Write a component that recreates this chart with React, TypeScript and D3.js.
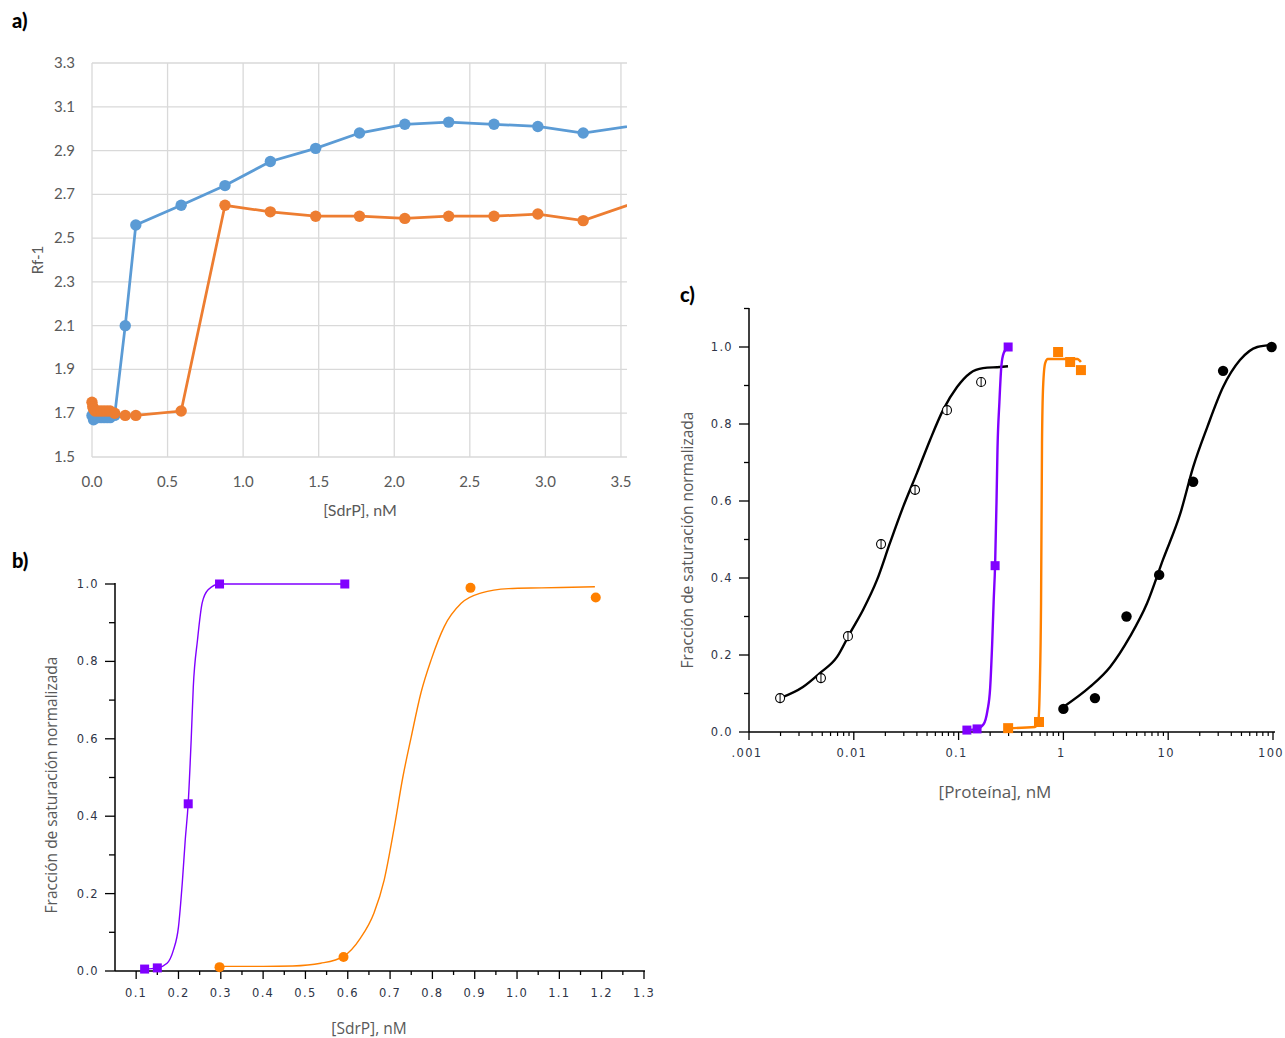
import * as d3 from 'd3'
import React from 'react'

// ---- panel a) Rf-1 vs [SdrP]
const aXTicks = [0, 0.5, 1.0, 1.5, 2.0, 2.5, 3.0, 3.5]
const aYTicks = [1.5, 1.7, 1.9, 2.1, 2.3, 2.5, 2.7, 2.9, 3.1, 3.3]
const aBlue = [[0, 1.69], [0.01, 1.67], [0.02, 1.68], [0.04, 1.68], [0.06, 1.68], [0.08, 1.68], [0.1, 1.68], [0.12, 1.68], [0.15, 1.69], [0.22, 2.10], [0.29, 2.56], [0.59, 2.65], [0.88, 2.74], [1.18, 2.85], [1.48, 2.91], [1.77, 2.98], [2.07, 3.02], [2.36, 3.03], [2.66, 3.02], [2.95, 3.01], [3.25, 2.98], [3.84, 3.04]]
const aOrange = [[0, 1.75], [0.005, 1.73], [0.01, 1.72], [0.02, 1.71], [0.04, 1.71], [0.06, 1.71], [0.08, 1.71], [0.1, 1.71], [0.12, 1.71], [0.15, 1.70], [0.22, 1.69], [0.29, 1.69], [0.59, 1.71], [0.88, 2.65], [1.18, 2.62], [1.48, 2.60], [1.77, 2.60], [2.07, 2.59], [2.36, 2.60], [2.66, 2.60], [2.95, 2.61], [3.25, 2.58], [3.84, 2.72]]

// ---- panel b) saturation vs [SdrP]
const bXMajor = [0.1, 0.2, 0.3, 0.4, 0.5, 0.6, 0.7, 0.8, 0.9, 1.0, 1.1, 1.2, 1.3]
const bXMinor = [0.15, 0.25, 0.35, 0.45, 0.55, 0.65, 0.75, 0.85, 0.95, 1.05, 1.15, 1.25]
const bYMajor = [0, 0.2, 0.4, 0.6, 0.8, 1.0]
const bYMinor = [0.1, 0.3, 0.5, 0.7, 0.9]
const purplePts = [[0.12, 0.005], [0.15, 0.008], [0.223, 0.432], [0.297, 1.0], [0.593, 1.0]]
const purpleFit = [[0.12, 0.005], [0.15, 0.008], [0.173, 0.02], [0.188, 0.054], [0.2, 0.114], [0.209, 0.228], [0.216, 0.339], [0.223, 0.434], [0.23, 0.597], [0.235, 0.734], [0.245, 0.856], [0.256, 0.951], [0.27, 0.985], [0.297, 1.0], [0.593, 1.0]]
const orangeBPts = [[0.297, 0.01], [0.59, 0.036], [0.89, 0.99], [1.186, 0.965]]
const orangeBFit = [[0.297, 0.012], [0.4, 0.012], [0.47, 0.013], [0.536, 0.02], [0.59, 0.038], [0.63, 0.085], [0.662, 0.15], [0.686, 0.235], [0.71, 0.372], [0.73, 0.5], [0.75, 0.605], [0.773, 0.719], [0.797, 0.804], [0.828, 0.89], [0.868, 0.95], [0.916, 0.977], [0.98, 0.988], [1.058, 0.99], [1.184, 0.993]]

// ---- panel c) saturation vs [Proteína] (log)
const cXMajor = [0.001, 0.01, 0.1, 1, 10, 100]
const cXLabels = ['.001', '0.01', '0.1', '1', '10', '100']
const cYMajor = [0, 0.2, 0.4, 0.6, 0.8, 1.0]
const cYMinor = [0.1, 0.3, 0.5, 0.7, 0.9, 1.1]
const openPts = [[0.00198, 0.088], [0.00486, 0.14], [0.0088, 0.249], [0.0182, 0.488], [0.0384, 0.629], [0.0775, 0.836], [0.164, 0.909]]
const openFit = [[0.00198, 0.088], [0.00327, 0.117], [0.00475, 0.153], [0.00692, 0.195], [0.0092, 0.257], [0.01224, 0.317], [0.01665, 0.395], [0.02214, 0.491], [0.0295, 0.584], [0.0401, 0.673], [0.0533, 0.758], [0.071, 0.836], [0.0966, 0.896], [0.1285, 0.932], [0.171, 0.945], [0.248, 0.948], [0.296, 0.95]]
const purpleCPts = [[0.12, 0.005], [0.15, 0.008], [0.223, 0.432], [0.297, 1.0]]
const orangeCPts = [[0.297, 0.01], [0.585, 0.026], [0.89, 0.987], [1.16, 0.961], [1.47, 0.94]]
const orangeCFit = [[0.297, 0.01], [0.536, 0.013], [0.58, 0.036], [0.595, 0.117], [0.612, 0.335], [0.625, 0.75], [0.64, 0.896], [0.67, 0.958], [0.71, 0.969], [0.99, 0.969], [1.36, 0.969], [1.47, 0.961]]
const filledPts = [[1.0, 0.06], [2.0, 0.088], [4.0, 0.3], [8.2, 0.408], [17.3, 0.65], [33.4, 0.938], [97, 1.0]]
const filledFit = [[1.0, 0.065], [1.79, 0.117], [2.79, 0.169], [4.3, 0.247], [6.3, 0.335], [8.9, 0.447], [13.1, 0.569], [17.3, 0.688], [23.6, 0.792], [33.4, 0.896], [48.4, 0.966], [70.8, 1.0], [97, 1.005]]

const BLUE = '#5B9BD5'
const ORANGE_A = '#ED7D31'
const PURPLE = '#8000FF'
const ORANGE = '#FF8000'

export default function App() {
  // a)
  const aX = d3.scaleLinear().domain([0, 3.54]).range([92, 627])
  const aY = d3.scaleLinear().domain([1.5, 3.3]).range([457, 63])
  const aLine = d3.line().x(d => aX(d[0])).y(d => aY(d[1]))

  // b)
  const bX = d3.scaleLinear().domain([0.05, 1.3]).range([115, 644])
  const bY = d3.scaleLinear().domain([0, 1]).range([971, 584])
  const bLine = d3.line().curve(d3.curveMonotoneX).x(d => bX(d[0])).y(d => bY(d[1]))

  // c)
  const cX = d3.scaleLog().domain([0.001, 100]).range([749, 1273])
  const cY = d3.scaleLinear().domain([0, 1.1]).range([732, 308.5])
  const cLine = d3.line().curve(d3.curveMonotoneX).x(d => cX(d[0])).y(d => cY(d[1]))
  const cMinor = []
  cXMajor.slice(0, -1).forEach(m => { for (let k = 2; k <= 9; k++) cMinor.push(m * k) })

  const tickFont = { fontFamily: 'DejaVu Sans, sans-serif', fontSize: 11.5, fill: '#2e3446', letterSpacing: 1.3 }
  const titleFont = { fontFamily: 'Open Sans, sans-serif', fontSize: 15.5, fill: '#595959' }
  const aFont = { fontFamily: 'Lato, sans-serif', fontSize: 15, fill: '#595959' }
  const panelFont = { fontFamily: 'Lato, sans-serif', fontSize: 20, fontWeight: 900, fill: '#000' }

  return (
    <svg width={1285} height={1038} style={{ position: 'absolute', left: 0, top: 0, background: '#fff' }}>
      <defs>
        <clipPath id="clipA"><rect x={80} y={40} width={547} height={430} /></clipPath>
      </defs>

      {/* ---------- a) ---------- */}
      <text x={12} y={28} {...panelFont}>a)</text>
      {aYTicks.map(t => (
        <g key={'ay' + t}>
          <line x1={92} x2={627} y1={aY(t)} y2={aY(t)} stroke="#d9d9d9" strokeWidth={1.3} />
          <text x={75} y={aY(t) + 5} textAnchor="end" {...aFont}>{t.toFixed(1)}</text>
        </g>
      ))}
      {aXTicks.map(t => (
        <g key={'ax' + t}>
          <line x1={aX(t)} x2={aX(t)} y1={63} y2={457} stroke="#d9d9d9" strokeWidth={1.3} />
          <text x={aX(t)} y={487} textAnchor="middle" {...aFont}>{t.toFixed(1)}</text>
        </g>
      ))}
      <text transform="translate(43,260) rotate(-90)" textAnchor="middle" {...aFont}>Rf-1</text>
      <text x={360} y={516} textAnchor="middle" {...aFont} fontSize={16}>[SdrP], nM</text>
      <g clipPath="url(#clipA)">
        <path d={aLine(aBlue)} fill="none" stroke={BLUE} strokeWidth={2.75} />
        {aBlue.map((p, i) => <circle key={'b' + i} cx={aX(p[0])} cy={aY(p[1])} r={5.7} fill={BLUE} />)}
        <path d={aLine(aOrange)} fill="none" stroke={ORANGE_A} strokeWidth={2.75} />
        {aOrange.map((p, i) => <circle key={'o' + i} cx={aX(p[0])} cy={aY(p[1])} r={5.7} fill={ORANGE_A} />)}
      </g>

      {/* ---------- b) ---------- */}
      <text x={12} y={568} {...panelFont}>b)</text>
      <line x1={115} x2={115} y1={583} y2={971} stroke="#000" strokeWidth={1.5} />
      <line x1={115} x2={645} y1={971} y2={971} stroke="#000" strokeWidth={1.5} />
      {bYMajor.map(t => (
        <g key={'by' + t}>
          <line x1={105} x2={115} y1={bY(t)} y2={bY(t)} stroke="#000" strokeWidth={1.3} />
          <text x={99} y={bY(t) + 4} textAnchor="end" {...tickFont}>{t.toFixed(1)}</text>
        </g>
      ))}
      {bYMinor.map(t => <line key={'bym' + t} x1={109} x2={115} y1={bY(t)} y2={bY(t)} stroke="#000" strokeWidth={1.3} />)}
      {bXMajor.map(t => (
        <g key={'bx' + t}>
          <line x1={bX(t)} x2={bX(t)} y1={971} y2={979} stroke="#000" strokeWidth={1.3} />
          <text x={bX(t)} y={997} textAnchor="middle" {...tickFont}>{t.toFixed(1)}</text>
        </g>
      ))}
      {bXMinor.map(t => <line key={'bxm' + t} x1={bX(t)} x2={bX(t)} y1={971} y2={975} stroke="#000" strokeWidth={1.3} />)}
      <text transform="translate(57,785) rotate(-90)" textAnchor="middle" {...titleFont}>Fracción de saturación normalizada</text>
      <text x={369} y={1034} textAnchor="middle" {...titleFont}>[SdrP], nM</text>
      <path d={bLine(purpleFit)} fill="none" stroke={PURPLE} strokeWidth={1.4} />
      {purplePts.map((p, i) => <rect key={'pb' + i} x={bX(p[0]) - 4.5} y={bY(p[1]) - 4.5} width={9} height={9} fill={PURPLE} />)}
      <path d={bLine(orangeBFit)} fill="none" stroke={ORANGE} strokeWidth={1.4} />
      {orangeBPts.map((p, i) => <circle key={'ob' + i} cx={bX(p[0])} cy={bY(p[1])} r={5} fill={ORANGE} />)}

      {/* ---------- c) ---------- */}
      <text x={680} y={302} {...panelFont}>c)</text>
      <line x1={749} x2={749} y1={308} y2={732} stroke="#000" strokeWidth={1.5} />
      <line x1={749} x2={1275} y1={732} y2={732} stroke="#000" strokeWidth={1.5} />
      {cYMajor.map(t => (
        <g key={'cy' + t}>
          <line x1={739} x2={749} y1={cY(t)} y2={cY(t)} stroke="#000" strokeWidth={1.3} />
          <text x={733} y={cY(t) + 4} textAnchor="end" {...tickFont}>{t.toFixed(1)}</text>
        </g>
      ))}
      {cYMinor.map(t => <line key={'cym' + t} x1={744} x2={749} y1={cY(t)} y2={cY(t)} stroke="#000" strokeWidth={1.3} />)}
      {cXMajor.map((t, i) => (
        <g key={'cx' + t}>
          <line x1={cX(t)} x2={cX(t)} y1={732} y2={740} stroke="#000" strokeWidth={1.3} />
          <text x={cX(t) - 2} y={757} textAnchor="middle" {...tickFont}>{cXLabels[i]}</text>
        </g>
      ))}
      {cMinor.map((t, i) => <line key={'cxm' + i} x1={cX(t)} x2={cX(t)} y1={732} y2={736} stroke="#000" strokeWidth={1.2} />)}
      <text transform="translate(693,540) rotate(-90)" textAnchor="middle" {...titleFont}>Fracción de saturación normalizada</text>
      <text x={995} y={798} textAnchor="middle" {...titleFont} fontSize={17}>[Proteína], nM</text>

      <path d={cLine(openFit)} fill="none" stroke="#000" strokeWidth={2.4} />
      {openPts.map((p, i) => (
        <g key={'oc' + i}>
          <circle cx={cX(p[0])} cy={cY(p[1])} r={4.5} fill="#fff" stroke="#000" strokeWidth={1.1} />
          <line x1={cX(p[0])} x2={cX(p[0])} y1={cY(p[1]) - 5} y2={cY(p[1]) + 5} stroke="#000" strokeWidth={1} />
        </g>
      ))}
      <path d={cLine(purpleFit.slice(0, -1))} fill="none" stroke={PURPLE} strokeWidth={2.4} />
      {purpleCPts.map((p, i) => <rect key={'pc' + i} x={cX(p[0]) - 4.5} y={cY(p[1]) - 4.5} width={9} height={9} fill={PURPLE} />)}
      <path d={cLine(orangeCFit)} fill="none" stroke={ORANGE} strokeWidth={2.4} />
      {orangeCPts.map((p, i) => <rect key={'occ' + i} x={cX(p[0]) - 5} y={cY(p[1]) - 5} width={10} height={10} fill={ORANGE} />)}
      <path d={cLine(filledFit)} fill="none" stroke="#000" strokeWidth={2.4} />
      {filledPts.map((p, i) => <circle key={'fc' + i} cx={cX(p[0])} cy={cY(p[1])} r={5.2} fill="#000" />)}
    </svg>
  )
}
